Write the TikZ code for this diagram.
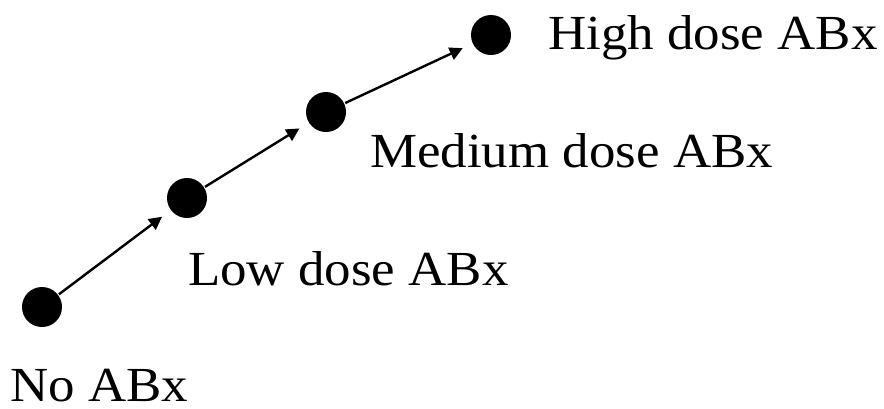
\documentclass[tikz,border=0pt]{standalone}
\usepackage{fontspec}
\setmainfont{Liberation Serif}
\usetikzlibrary{arrows.meta}
\begin{document}
\begin{tikzpicture}[x=1pt,y=-1pt,
  dot/.style={circle,fill=black,minimum size=40pt,inner sep=0pt},
  lbl/.style={anchor=base west,inner sep=0pt,font=\fontsize{49}{56}\selectfont},
  conn/.style={line width=2.4pt,-{Triangle[length=13pt,width=13pt]},shorten <=1pt,shorten >=11pt}]
\useasboundingbox (0,0) rectangle (884,408);
\node[dot] (n0) at (42,307) {};
\node[dot] (n1) at (187,198) {};
\node[dot] (n2) at (326,112) {};
\node[dot] (n3) at (491,35) {};
\node[lbl] (t0) at (10,401) {\scalebox{1.08}[1]{No ABx}};
\node[lbl] (t1) at (188,285) {\scalebox{1.08}[1]{Low dose ABx}};
\node[lbl] (t2) at (370,167) {\scalebox{1.08}[1]{Medium dose ABx}};
\node[lbl] (t3) at (548,49) {\scalebox{1.08}[1]{High dose ABx}};
\draw[conn] (n0) -- (n1);
\draw[conn] (n1) -- (n2);
\draw[conn] (n2) -- (n3);
\end{tikzpicture}
\end{document}
